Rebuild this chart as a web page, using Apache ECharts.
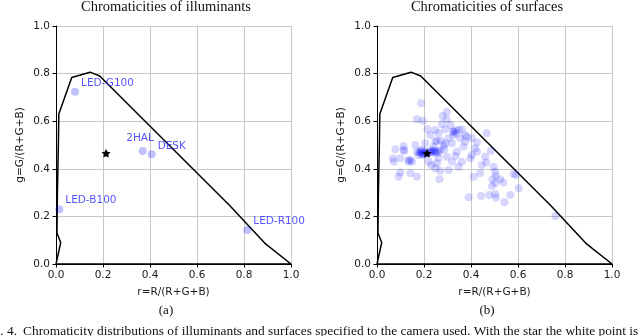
<!DOCTYPE html>
<html>
<head>
<meta charset="utf-8">
<script src="https://cdn.jsdelivr.net/npm/echarts@6/dist/echarts.min.js"></script>
<style>
  html, body { margin: 0; padding: 0; background: #fff; }
  #chart { width: 640px; height: 336px; }
</style>
</head>
<body>
<div id="chart"></div>
<script>
// spectral locus of the camera in rg space (closed)
const locusR = [0, 0.02, 0.004, 0.006, 0.01, 0.012, 0.067, 0.145, 0.186, 0.74, 0.889, 1.0, 0]
const locusG = [0, 0.09, 0.13, 0.3, 0.5, 0.63, 0.784, 0.806, 0.79, 0.245, 0.087, 0.0, 0]

// illuminants
const illumNames = ["LED-G100", "2HAL", "DESK", "LED-B100", "LED-R100"]
const illumR = [0.081, 0.369, 0.407, 0.014, 0.814]
const illumG = [0.724, 0.475, 0.461, 0.23, 0.143]

// white point (star)
const whiteR = [0.213]
const whiteG = [0.465]

// surfaces
const surfR = [
  0.188, 0.170, 0.195, 0.279, 0.297, 0.276, 0.215, 0.248, 0.227, 0.262,
  0.290, 0.323, 0.337, 0.326, 0.361, 0.382, 0.354, 0.305, 0.272, 0.248,
  0.290, 0.319, 0.375, 0.368, 0.425, 0.418, 0.425, 0.467, 0.404, 0.484,
  0.460, 0.465, 0.446, 0.411, 0.439, 0.397, 0.361, 0.347, 0.333, 0.340,
  0.297, 0.319, 0.262, 0.255, 0.231, 0.248, 0.269, 0.266, 0.220, 0.170,
  0.184, 0.198, 0.191, 0.227, 0.241, 0.255, 0.269, 0.286, 0.177, 0.163,
  0.113, 0.113, 0.078, 0.068, 0.071, 0.099, 0.142, 0.135, 0.099, 0.092,
  0.142, 0.170, 0.255, 0.205, 0.241, 0.496, 0.503, 0.506, 0.491, 0.524,
  0.503, 0.489, 0.538, 0.581, 0.592, 0.390, 0.443, 0.477, 0.503, 0.506,
  0.542, 0.567, 0.603, 0.759, 0.297, 0.375, 0.347, 0.404, 0.312, 0.305,
  0.180, 0.190, 0.200, 0.205, 0.215, 0.225, 0.235, 0.245, 0.187, 0.196,
  0.208, 0.232, 0.250, 0.262, 0.116, 0.134, 0.149, 0.326, 0.333, 0.284
]
const surfG = [
  0.675, 0.608, 0.602, 0.622, 0.608, 0.588, 0.566, 0.563, 0.542, 0.549,
  0.566, 0.556, 0.549, 0.542, 0.566, 0.535, 0.528, 0.528, 0.518, 0.514,
  0.507, 0.507, 0.514, 0.493, 0.510, 0.486, 0.472, 0.549, 0.458, 0.476,
  0.451, 0.426, 0.416, 0.367, 0.381, 0.444, 0.430, 0.409, 0.454, 0.472,
  0.451, 0.430, 0.444, 0.423, 0.416, 0.402, 0.392, 0.356, 0.430, 0.472,
  0.468, 0.465, 0.479, 0.468, 0.476, 0.472, 0.479, 0.482, 0.458, 0.500,
  0.496, 0.479, 0.482, 0.444, 0.430, 0.444, 0.437, 0.430, 0.384, 0.367,
  0.381, 0.367, 0.518, 0.507, 0.493, 0.409, 0.388, 0.370, 0.356, 0.356,
  0.339, 0.328, 0.342, 0.378, 0.374, 0.280, 0.286, 0.290, 0.294, 0.279,
  0.259, 0.290, 0.318, 0.202, 0.640, 0.542, 0.563, 0.528, 0.584, 0.395,
  0.470, 0.462, 0.468, 0.474, 0.466, 0.472, 0.470, 0.475, 0.476, 0.458,
  0.460, 0.478, 0.466, 0.470, 0.476, 0.437, 0.430, 0.556, 0.562, 0.498
]

const zip = (a, b) => a.map((v, i) => [v, b[i]])

const tickFont = { fontFamily: "DejaVu Sans", fontSize: 10.5, color: "#1a1a1a" }
const starPath = "path://M0,-10L2.94,-4.05L9.51,-3.09L4.76,1.55L5.88,8.09L0,5L-5.88,8.09L-4.76,1.55L-9.51,-3.09L-2.94,-4.05Z"

const makeX = (idx) => ({
  type: "value", gridIndex: idx, min: 0, max: 1, interval: 0.2,
  name: "r=R/(R+G+B)", nameLocation: "middle", nameGap: 23,
  nameTextStyle: { fontFamily: "DejaVu Sans", fontSize: 10.5, color: "#1a1a1a" },
  axisLine: { show: true, onZero: false, lineStyle: { color: "#000", width: 1 } },
  axisTick: { show: true, inside: false, length: 3.5, lineStyle: { color: "#000" } },
  axisLabel: { ...tickFont, margin: 6, formatter: (v) => v.toFixed(1) },
  splitLine: { show: true, lineStyle: { color: "#c8c8c8", width: 1 } }
})
const makeY = (idx) => ({
  type: "value", gridIndex: idx, min: 0, max: 1, interval: 0.2,
  name: "g=G/(R+G+B)", nameLocation: "middle", nameGap: 30, nameRotate: 90,
  nameTextStyle: { fontFamily: "DejaVu Sans", fontSize: 10.5, color: "#1a1a1a" },
  axisLine: { show: true, onZero: false, lineStyle: { color: "#000", width: 1 } },
  axisTick: { show: true, inside: false, length: 3.5, lineStyle: { color: "#000" } },
  axisLabel: { ...tickFont, margin: 6, formatter: (v) => v.toFixed(1) },
  splitLine: { show: true, lineStyle: { color: "#c8c8c8", width: 1 } }
})

// label offsets (pixels) for the illuminant names
const labelOffset = {
  "LED-G100": [0, -8], "2HAL": [-22.5, -12.5], "DESK": [0, -8.5],
  "LED-B100": [0, -8.5], "LED-R100": [0, -9]
}

const locusSeries = (idx) => ({
  type: "line", xAxisIndex: idx, yAxisIndex: idx,
  data: zip(locusR, locusG), showSymbol: false, silent: true,
  lineStyle: { color: "#000", width: 1.5 }, z: 3
})
const starSeries = (idx) => ({
  type: "scatter", xAxisIndex: idx, yAxisIndex: idx,
  data: zip(whiteR, whiteG), symbol: starPath, symbolKeepAspect: true, symbolSize: 9,
  itemStyle: { color: "#000", opacity: 1 }, z: 5
})

const serifText = (x, y, text, size, align) => ({
  type: "text",
  style: { x, y, text, font: size + "px 'Liberation Serif'", fill: "#111", textAlign: align || "center", textVerticalAlign: "middle" }
})

const chart = echarts.init(document.getElementById("chart"), null, { renderer: "canvas" })
chart.setOption({
  animation: false,
  backgroundColor: "#fff",
  grid: [
    { left: 56, top: 26, width: 235, height: 238 },
    { left: 377, top: 26, width: 235, height: 238 }
  ],
  xAxis: [makeX(0), makeX(1)],
  yAxis: [makeY(0), makeY(1)],
  series: [
    locusSeries(0),
    {
      type: "scatter", xAxisIndex: 0, yAxisIndex: 0,
      data: illumNames.map((n, i) => ({
        name: n, value: [illumR[i], illumG[i]],
        label: { offset: labelOffset[n] }
      })),
      symbolSize: 8,
      itemStyle: { color: "rgba(0,0,255,0.3)" },
      label: {
        show: true, position: "right", distance: 2, formatter: "{b}",
        fontFamily: "DejaVu Sans", fontSize: 10.5, color: "#2a2aff"
      },
      z: 4
    },
    starSeries(0),
    locusSeries(1),
    {
      type: "scatter", xAxisIndex: 1, yAxisIndex: 1,
      data: zip(surfR, surfG),
      symbolSize: 8,
      itemStyle: { color: "rgba(0,0,255,0.2)" },
      z: 4
    },
    starSeries(1)
  ],
  graphic: [
    serifText(166, 7, "Chromaticities of illuminants", 14.5),
    serifText(487, 7, "Chromaticities of surfaces", 14.5),
    serifText(166, 311, "(a)", 13),
    serifText(487, 311, "(b)", 13),
    serifText(17, 331, "Fig. 4.", 13.4, "right"),
    serifText(23, 331, "Chromaticity distributions of illuminants and surfaces specified to the camera used. With the star the white point is", 13.4, "left")
  ]
})
</script>
</body>
</html>
